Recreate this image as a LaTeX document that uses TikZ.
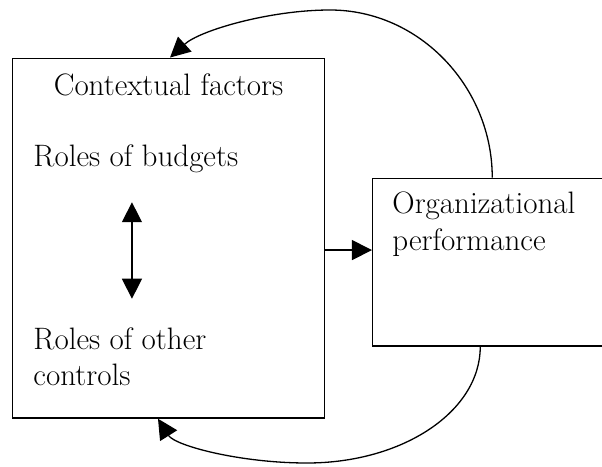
\documentclass[tikz,border=0pt]{standalone}
\usepackage{fontspec}
\usetikzlibrary{arrows.meta,positioning,calc}

\begin{document}
\begin{tikzpicture}[x=1pt, y=1pt,
    box/.style={draw, line width=1.5pt, inner sep=0pt, minimum width=#1},
    lbl/.style={inner sep=0pt, align=left, font=\fontsize{31}{36.5}\selectfont},
    arr/.style={line width=1.3pt, -{Triangle[length=20pt, width=20pt]}}]
  \useasboundingbox (0,0) rectangle (602,466);
  \clip (0,0) rectangle (602,466);
  \node [box=311.6pt, minimum height=359.7pt] (ctx) at (168.5,227.85) {};
  \node [box=267.3pt, minimum height=167.7pt] (org) at (506.35,203.85) {};

  \node [lbl, anchor=base] (ctxtitle) at ([yshift=-37.7pt]ctx.north) {Contextual factors};
  \node [lbl, anchor=base west] (budgets) at ([xshift=21.3pt, yshift=-108.7pt]ctx.north west) {Roles of budgets};
  \node [lbl, anchor=base west] (others) at ([xshift=21.3pt, yshift=33pt]ctx.south west) {Roles of other\\controls};
  \node [lbl, anchor=base west] (orgtitle) at ([xshift=20.3pt, yshift=-72.7pt]org.north west) {Organizational\\performance};

  \coordinate (budup) at ([xshift=98.7pt, yshift=-36pt]budgets.base west);
  \coordinate (buddown) at ([xshift=98.7pt, yshift=87pt]others.base west);
  \coordinate (link) at ($(ctx.south east)!0.467!(ctx.north east)$);
  \coordinate (toppeak) at (330,456);
  \coordinate (botpeak) at (307,3);

  % FLECHAS
  \draw[arr, {Triangle[length=20pt, width=20pt]}-{Triangle[length=20pt, width=20pt]}] (buddown) -- (budup);
  \draw[arr] (link) -- (link -| org.west);
  \draw[arr] ([xshift=120.3pt]org.north west) .. controls +(0,90) and +(90,0) .. (toppeak)
    .. controls +(-60,0) and +(30,27.3) .. ([xshift=1.5pt]ctx.north);
  \draw[arr] ([xshift=108.3pt]org.south west) .. controls +(0,-64.6) and +(96,0) .. (botpeak)
    .. controls +(-67,0) and +(17,-27) .. ([xshift=-10.5pt]ctx.south);
\end{tikzpicture}
\end{document}
